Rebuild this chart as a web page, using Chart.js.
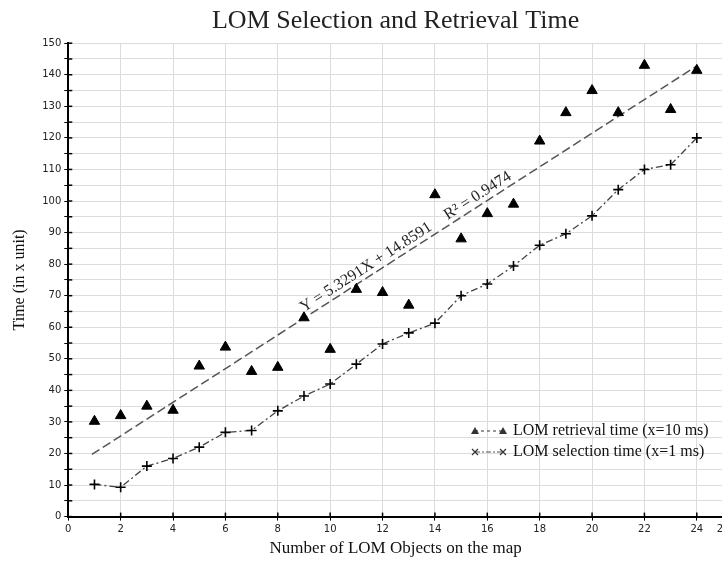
<!DOCTYPE html>
<html>
<head>
<meta charset="utf-8">
<title>LOM Selection and Retrieval Time</title>
<script src="https://cdn.jsdelivr.net/npm/chart.js@4/dist/chart.umd.min.js"></script>
<style>
  html, body { margin: 0; padding: 0; background: #fff; overflow: hidden; }
  #myChart { display: block; }
</style>
</head>
<body>
<canvas id="myChart" width="784" height="563"></canvas>
<script>
// values
const objectCounts = [1, 2, 3, 4, 5, 6, 7, 8, 9, 10, 11, 12, 13, 14, 15, 16, 17, 18, 19, 20, 21, 22, 23, 24];
const retrievalTimes = [30.2, 32, 35, 33.7, 47.7, 53.7, 46, 47.3, 63, 53, 72, 71, 67, 102, 88, 96, 99, 119, 128, 135, 128, 143, 129, 141.4];
const selectionTimes = [10.2, 9.3, 16, 18.4, 22, 26.7, 27.3, 33.5, 38.2, 42, 48.3, 54.7, 58.2, 61.3, 70, 73.7, 79.4, 86, 89.6, 95.3, 103.6, 110, 111.5, 120];
const trendX = [0.9, 24];
const trendY = [19.7, 142.8];
const xTickValues = [0, 2, 4, 6, 8, 10, 12, 14, 16, 18, 20, 22, 24, 25];
const trendEquation = "Y = 5.3291X + 14.8591";
const trendR2 = "R\u00B2 = 0.9474";
const trendLabelAt = 9.1;

const serif = "'Liberation Serif', 'DejaVu Serif', serif";
const sans = "'DejaVu Sans', sans-serif";

// short tick marks that cross the axis lines, drawn on top
const crossTicks = {
    id: 'crossTicks',
    afterDatasetsDraw(chart) {
        const { ctx, chartArea, scales } = chart;
        ctx.save();
        ctx.strokeStyle = '#000';
        ctx.lineWidth = 1.5;
        scales.y.ticks.forEach(t => {
            const py = scales.y.getPixelForValue(t.value);
            ctx.beginPath();
            ctx.moveTo(chartArea.left, py);
            ctx.lineTo(chartArea.left + 4, py);
            ctx.stroke();
        });
        scales.x.ticks.forEach(t => {
            const px = scales.x.getPixelForValue(t.value);
            ctx.beginPath();
            ctx.moveTo(px, chartArea.bottom);
            ctx.lineTo(px, chartArea.bottom - 4);
            ctx.stroke();
        });
        ctx.restore();
    }
};

// equation text running along the trend line
const trendText = {
    id: 'trendText',
    afterDatasetsDraw(chart) {
        const { ctx, scales } = chart;
        const x0 = scales.x.getPixelForValue(trendX[0]);
        const y0 = scales.y.getPixelForValue(trendY[0]);
        const x1 = scales.x.getPixelForValue(trendX[1]);
        const y1 = scales.y.getPixelForValue(trendY[1]);
        const angle = Math.atan2(y1 - y0, x1 - x0);
        const t = (trendLabelAt - trendX[0]) / (trendX[1] - trendX[0]);
        const px = scales.x.getPixelForValue(trendLabelAt);
        const py = scales.y.getPixelForValue(trendY[0] + t * (trendY[1] - trendY[0]));
        ctx.save();
        ctx.translate(px, py);
        ctx.rotate(angle);
        ctx.font = "16px " + serif;
        ctx.fillStyle = '#222';
        ctx.textBaseline = 'alphabetic';
        ctx.fillText(trendEquation, 0, -5);
        ctx.fillText(trendR2, 171, -5);
        ctx.restore();
    }
};

// legend in the lower right of the plot, same look as the original
const sampleLegend = {
    id: 'sampleLegend',
    afterDraw(chart) {
        const { ctx } = chart;
        const sx = 475, ex = 503, tx = 513;
        const rows = [
            { y: 431, label: chart.data.datasets[0].label, dash: [3, 3], mark: 'tri' },
            { y: 452, label: chart.data.datasets[1].label, dash: [5, 2, 2, 2], mark: 'x' }
        ];
        ctx.save();
        rows.forEach(r => {
            ctx.strokeStyle = '#555';
            ctx.lineWidth = 1.2;
            ctx.setLineDash(r.dash);
            ctx.beginPath();
            ctx.moveTo(sx, r.y);
            ctx.lineTo(ex, r.y);
            ctx.stroke();
            ctx.setLineDash([]);
            [sx, ex].forEach(cx => {
                if (r.mark === 'tri') {
                    ctx.fillStyle = '#333';
                    ctx.beginPath();
                    ctx.moveTo(cx - 4, r.y + 3);
                    ctx.lineTo(cx + 4, r.y + 3);
                    ctx.lineTo(cx, r.y - 4);
                    ctx.closePath();
                    ctx.fill();
                } else {
                    ctx.strokeStyle = '#333';
                    ctx.lineWidth = 1.2;
                    ctx.beginPath();
                    ctx.moveTo(cx - 3, r.y - 3);
                    ctx.lineTo(cx + 3, r.y + 3);
                    ctx.moveTo(cx - 3, r.y + 3);
                    ctx.lineTo(cx + 3, r.y - 3);
                    ctx.stroke();
                }
            });
            ctx.font = "16px " + serif;
            ctx.fillStyle = '#111';
            ctx.textBaseline = 'middle';
            ctx.fillText(r.label, tx, r.y);
        });
        ctx.restore();
    }
};

const ctx = document.getElementById('myChart');
new Chart(ctx, {
    type: 'scatter',
    data: {
        datasets: [{
            label: 'LOM retrieval time (x=10 ms)',
            data: objectCounts.map((x, i) => ({ x: x, y: retrievalTimes[i] })),
            showLine: false,
            pointStyle: 'triangle',
            pointRadius: 6,
            backgroundColor: '#000',
            borderColor: '#000',
            borderWidth: 1
        }, {
            label: 'LOM selection time (x=1 ms)',
            data: objectCounts.map((x, i) => ({ x: x, y: selectionTimes[i] })),
            showLine: true,
            borderColor: '#444',
            borderWidth: 1.3,
            borderDash: [7, 3, 2, 3],
            pointStyle: 'cross',
            pointRadius: 5,
            pointBorderColor: '#000',
            pointBorderWidth: 1.6
        }, {
            label: 'trend',
            data: trendX.map((x, i) => ({ x: x, y: trendY[i] })),
            showLine: true,
            borderColor: '#555',
            borderWidth: 1.5,
            borderDash: [9, 4],
            pointRadius: 0
        }]
    },
    options: {
        responsive: false,
        animation: false,
        layout: {
            padding: { left: 4, right: 61, top: 0, bottom: 0 }
        },
        plugins: {
            legend: { display: false },
            tooltip: { enabled: false },
            title: {
                display: true,
                fullSize: false,
                text: 'LOM Selection and Retrieval Time',
                color: '#222',
                font: { family: serif, size: 26, weight: 'normal' },
                padding: { top: 6, bottom: 6 }
            }
        },
        scales: {
            x: {
                type: 'linear',
                min: 0,
                max: 25,
                afterBuildTicks: axis => {
                    axis.ticks = xTickValues.map(v => ({ value: v }));
                },
                border: { color: '#000', width: 2 },
                grid: { color: '#dcdcdc', tickColor: '#000', tickLength: 4, lineWidth: 1 },
                ticks: {
                    color: '#222',
                    font: { family: sans, size: 10 },
                    padding: 3,
                    maxRotation: 0,
                    autoSkip: false
                },
                title: {
                    display: true,
                    text: 'Number of LOM Objects on the map',
                    color: '#111',
                    font: { family: serif, size: 17 },
                    padding: { top: 0, bottom: 4 }
                }
            },
            y: {
                min: 0,
                max: 150,
                border: { color: '#000', width: 2 },
                grid: { color: '#dcdcdc', tickColor: '#000', tickLength: 4, lineWidth: 1 },
                ticks: {
                    stepSize: 5,
                    autoSkip: false,
                    color: '#222',
                    font: { family: sans, size: 10 },
                    padding: 3,
                    callback: value => (value % 10 === 0 ? value : '')
                },
                title: {
                    display: true,
                    text: 'Time (in x unit)',
                    color: '#111',
                    font: { family: serif, size: 16 },
                    padding: { top: 6, bottom: 10 }
                }
            }
        }
    },
    plugins: [crossTicks, trendText, sampleLegend]
});
</script>
</body>
</html>
